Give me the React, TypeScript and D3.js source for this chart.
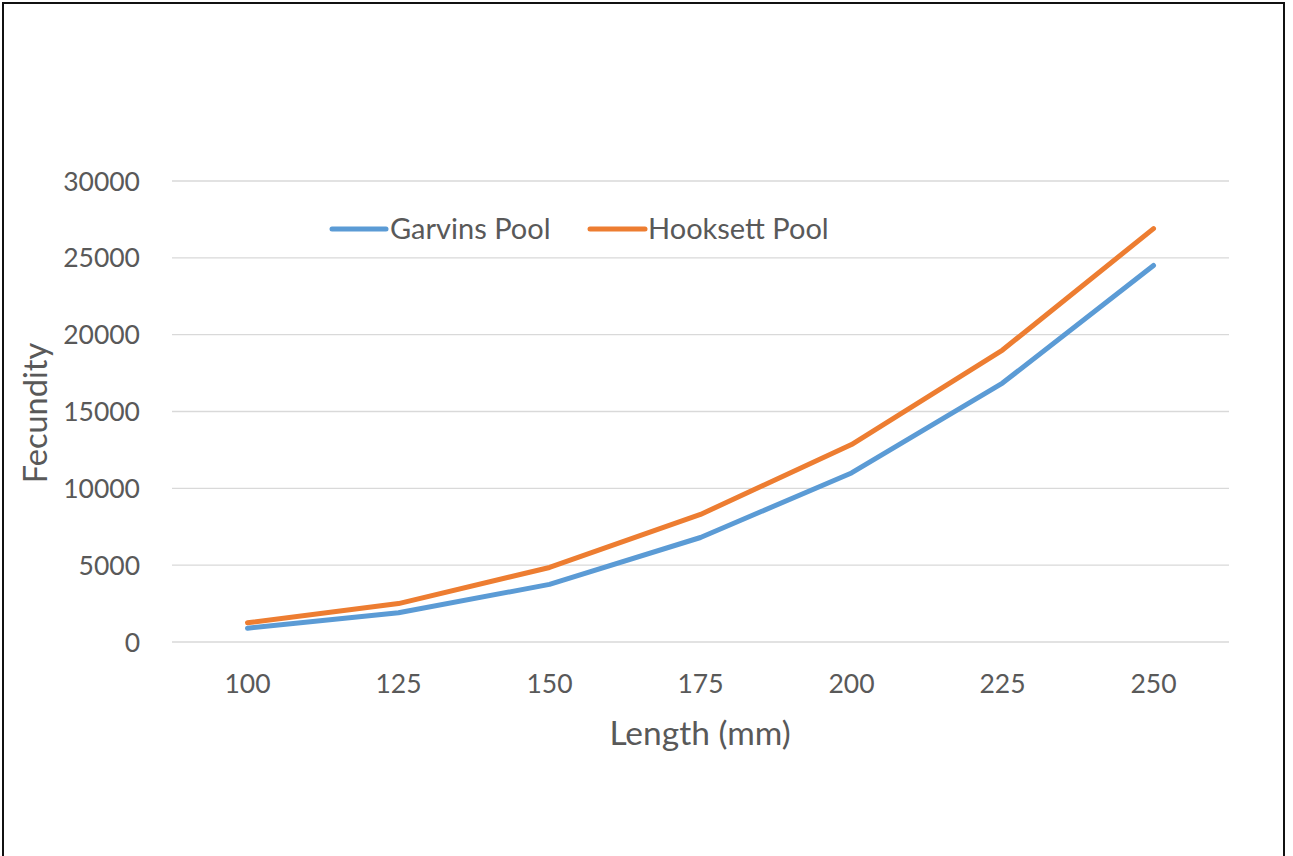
import React from "react";
import * as d3 from "d3";

const lengths = ["100", "125", "150", "175", "200", "225", "250"];
const garvins = [900, 1900, 3750, 6800, 11000, 16850, 24500];
const hooksett = [1250, 2500, 4850, 8300, 12850, 19000, 26900];
const yTicks = [0, 5000, 10000, 15000, 20000, 25000, 30000];
const seriesNames = ["Garvins Pool", "Hooksett Pool"];
const seriesColors = ["#5B9BD5", "#ED7D31"];

const W = 1293;
const H = 856;
const FONT = "Lato, 'Open Sans', sans-serif";
const TEXT = "#595959";

export default function App() {
  const x = d3.scaleBand<string>().domain(lengths).range([172, 1229]).padding(0);
  const y = d3.scaleLinear().domain([0, 30000]).range([642, 181]);
  const cx = (c: string) => (x(c) ?? 0) + x.bandwidth() / 2;
  const line = d3
    .line<number>()
    .x((_, i) => cx(lengths[i]))
    .y((d) => y(d));
  const series = [garvins, hooksett];

  const legend = [
    { x1: 332, x2: 386, tx: 390 },
    { x1: 590, x2: 645, tx: 648 },
  ];

  return (
    <svg
      width={W}
      height={H}
      style={{ position: "absolute", left: 0, top: 0, background: "#fff" }}
      fontFamily={FONT}
    >
      <rect x={0} y={0} width={W} height={H} fill="#fff" />
      <rect x={3} y={3} width={1281} height={900} fill="none" stroke="#111" strokeWidth={2} />
      {yTicks.map((t) => (
        <g key={t}>
          <line x1={172} x2={1229} y1={y(t)} y2={y(t)} stroke="#D9D9D9" strokeWidth={1.3} />
          <text x={140} y={y(t)} dy="0.36em" textAnchor="end" fontSize={26.5} fill={TEXT}>
            {t}
          </text>
        </g>
      ))}
      {lengths.map((c) => (
        <text key={c} x={cx(c)} y={693} textAnchor="middle" fontSize={26.5} fill={TEXT}>
          {c}
        </text>
      ))}
      {series.map((s, i) => (
        <path
          key={i}
          d={line(s) ?? ""}
          fill="none"
          stroke={seriesColors[i]}
          strokeWidth={5}
          strokeLinejoin="round"
          strokeLinecap="round"
        />
      ))}
      {legend.map((l, i) => (
        <g key={i}>
          <line
            x1={l.x1}
            x2={l.x2}
            y1={229}
            y2={229}
            stroke={seriesColors[i]}
            strokeWidth={5}
            strokeLinecap="round"
          />
          <text x={l.tx} y={229} dy="0.36em" fontSize={29} fill={TEXT}>
            {seriesNames[i]}
          </text>
        </g>
      ))}
      <text x={700} y={745} textAnchor="middle" fontSize={33.5} fill={TEXT}>
        Length (mm)
      </text>
      <text
        transform={`translate(47,413) rotate(-90)`}
        textAnchor="middle"
        fontSize={32.5}
        fill={TEXT}
      >
        Fecundity
      </text>
    </svg>
  );
}
